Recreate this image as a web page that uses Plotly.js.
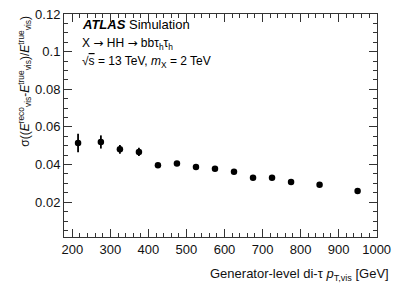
<!DOCTYPE html>
<html>
<head>
<meta charset="utf-8">
<script src="https://cdn.plot.ly/plotly-3.0.1.min.js"></script>
<style>html,body{margin:0;padding:0;background:#fff;}#chart{width:399px;height:286px;}</style>
</head>
<body>
<div id="chart"></div>
<script>
const ptVis = [215, 275, 325, 375, 425, 475, 525, 575, 625, 675, 725, 775, 850, 950];
const resolution = [0.0515, 0.0520, 0.0481, 0.0467, 0.0396, 0.0406, 0.0387, 0.0378, 0.0362, 0.0330, 0.0330, 0.0307, 0.0293, 0.0259];
const resolutionErr = [0.0049, 0.0035, 0.0023, 0.0022, 0.0012, 0.0012, 0.0011, 0.0011, 0.0012, 0.0010, 0.0010, 0.0010, 0.0009, 0.0010];
const xTickVals = [200, 300, 400, 500, 600, 700, 800, 900, 1000];
const yTickVals = [0.02, 0.04, 0.06, 0.08, 0.1, 0.12];
const yTickText = ["0.02", "0.04", "0.06", "0.08", "0.1", "0.12"];
const xRange = [178, 1001];
const yRange = [0.0015, 0.12];

const font = "Liberation Sans, Arial, Helvetica, sans-serif";
const axisColor = "#333";

const trace = {
  x: ptVis, y: resolution, type: "scatter", mode: "markers",
  marker: {color: "#000", size: 6.5, symbol: "circle"},
  error_y: {type: "data", array: resolutionErr, visible: true, color: "#000", thickness: 1.8, width: 0},
  showlegend: false, hoverinfo: "skip"
};
// invisible trace so the mirrored (top/right) axes get drawn
const mirrorTrace = {
  x: [xRange[0]], y: [yRange[0]], xaxis: "x2", yaxis: "y2", type: "scatter", mode: "markers",
  marker: {opacity: 0}, showlegend: false, hoverinfo: "skip"
};

function axisBase(range, tickvals, ticktext, minorDtick, minorTick0) {
  return {
    range: range, showgrid: false, zeroline: false,
    showline: true, linecolor: axisColor, linewidth: 1,
    ticks: "inside", ticklen: 8, tickcolor: axisColor, tickwidth: 1,
    tickvals: tickvals, ticktext: ticktext,
    tickfont: {family: font, size: 13, color: "#111"},
    minor: {dtick: minorDtick, tick0: minorTick0, ticks: "inside", ticklen: 4, tickcolor: axisColor, tickwidth: 1, showgrid: false}
  };
}

const xaxis = axisBase(xRange, xTickVals, xTickVals.map(String), 20, 200);
const yaxis = axisBase(yRange, yTickVals, yTickText, 0.005, 0);
const xaxis2 = Object.assign(axisBase(xRange, xTickVals, xTickVals.map(String), 20, 200), {overlaying: "x", side: "top", showticklabels: false, anchor: "y2"});
const yaxis2 = Object.assign(axisBase(yRange, yTickVals, yTickText, 0.005, 0), {overlaying: "y", side: "right", showticklabels: false, anchor: "x2"});

const layout = {
  width: 399, height: 286,
  margin: {l: 64, r: 22, t: 14, b: 49},
  paper_bgcolor: "#fff", plot_bgcolor: "#fff",
  font: {family: font, size: 13, color: "#111"},
  xaxis: xaxis, yaxis: yaxis, xaxis2: xaxis2, yaxis2: yaxis2,
  annotations: [
    {xref: "paper", yref: "paper", x: 1.045, y: -0.17, xanchor: "right", yanchor: "middle", showarrow: false,
     text: "Generator-level di-τ <i>p</i><sub>T,vis</sub> [GeV]", font: {family: font, size: 13, color: "#111"}},
    {xref: "paper", yref: "paper", x: -0.127, y: 1.0, xanchor: "center", yanchor: "top", showarrow: false, textangle: -90,
     text: "σ((<i>E</i><sup>reco</sup><sub>vis</sub>-<i>E</i><sup>true</sup><sub>vis</sub>)/<i>E</i><sup>true</sup><sub>vis</sub>)",
     font: {family: font, size: 12, color: "#111"}},
    {xref: "paper", yref: "paper", x: 0.05, y: 0.955, xanchor: "left", yanchor: "middle", showarrow: false,
     text: "<b><i>ATLAS</i></b> Simulation", font: {family: font, size: 13, color: "#000"}},
    {xref: "paper", yref: "paper", x: 0.05, y: 0.865, xanchor: "left", yanchor: "middle", showarrow: false,
     text: "X <span style=\"font-family:DejaVu Sans\">→</span> HH <span style=\"font-family:DejaVu Sans\">→</span> bbτ<sub>h</sub>τ<sub>h</sub>", font: {family: font, size: 12, color: "#000"}},
    {xref: "paper", yref: "paper", x: 0.05, y: 0.785, xanchor: "left", yanchor: "middle", showarrow: false,
     text: "√<span style=\"text-decoration:overline\">s</span> = 13 TeV, <i>m</i><sub>X</sub> = 2 TeV", font: {family: font, size: 12, color: "#000"}}
  ]
};

Plotly.newPlot("chart", [trace, mirrorTrace], layout, {staticPlot: true, displayModeBar: false});
</script>
</body>
</html>
